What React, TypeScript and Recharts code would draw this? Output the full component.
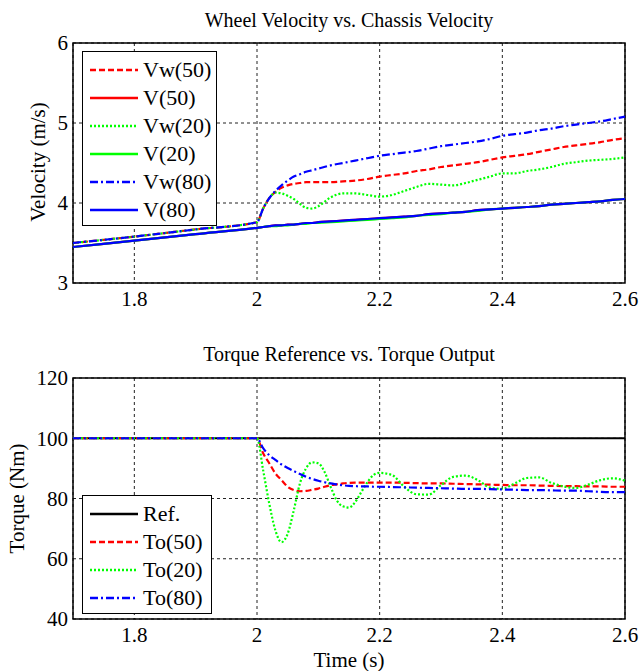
import { LineChart, Line, XAxis, YAxis, CartesianGrid, ReferenceArea, Legend } from 'recharts';

const FONT = '"Liberation Serif", "Times New Roman", serif';

// top plot: wheel velocity vs chassis velocity
const timeTop = [1.7, 1.8, 1.9, 2.0, 2.01, 2.02, 2.03, 2.04, 2.05, 2.06, 2.07, 2.08, 2.09, 2.1, 2.12, 2.14, 2.16, 2.18, 2.2, 2.22, 2.24, 2.26, 2.28, 2.3, 2.32, 2.34, 2.36, 2.38, 2.4, 2.42, 2.44, 2.46, 2.48, 2.5, 2.52, 2.54, 2.56, 2.58, 2.6];
const vw50 = [3.5, 3.58, 3.67, 3.76, 3.93, 4.06, 4.14, 4.19, 4.22, 4.24, 4.25, 4.26, 4.26, 4.26, 4.26, 4.27, 4.28, 4.3, 4.33, 4.35, 4.37, 4.4, 4.42, 4.45, 4.47, 4.49, 4.51, 4.54, 4.57, 4.59, 4.61, 4.64, 4.67, 4.7, 4.72, 4.74, 4.76, 4.79, 4.81];
const v50 = [3.45, 3.53, 3.61, 3.69, 3.7, 3.71, 3.72, 3.72, 3.73, 3.73, 3.74, 3.75, 3.75, 3.76, 3.77, 3.78, 3.79, 3.8, 3.81, 3.82, 3.83, 3.84, 3.86, 3.87, 3.88, 3.89, 3.91, 3.92, 3.93, 3.94, 3.95, 3.96, 3.98, 3.99, 4.0, 4.01, 4.02, 4.04, 4.05];
const vw20 = [3.5, 3.58, 3.67, 3.76, 3.93, 4.06, 4.13, 4.12, 4.09, 4.05, 3.99, 3.94, 3.93, 3.96, 4.07, 4.12, 4.12, 4.1, 4.08, 4.1, 4.15, 4.2, 4.24, 4.23, 4.22, 4.25, 4.29, 4.33, 4.37, 4.37, 4.4, 4.42, 4.45, 4.49, 4.51, 4.53, 4.54, 4.55, 4.57];
const v20 = [3.45, 3.53, 3.61, 3.69, 3.7, 3.71, 3.71, 3.72, 3.72, 3.73, 3.74, 3.74, 3.75, 3.75, 3.76, 3.77, 3.78, 3.79, 3.8, 3.81, 3.82, 3.84, 3.85, 3.86, 3.88, 3.89, 3.9, 3.92, 3.93, 3.94, 3.95, 3.96, 3.98, 3.99, 4.0, 4.01, 4.02, 4.04, 4.05];
const vw80 = [3.5, 3.58, 3.67, 3.76, 3.93, 4.06, 4.15, 4.22, 4.28, 4.33, 4.36, 4.39, 4.41, 4.43, 4.47, 4.5, 4.53, 4.56, 4.59, 4.61, 4.63, 4.65, 4.68, 4.71, 4.73, 4.75, 4.77, 4.8, 4.84, 4.86, 4.88, 4.91, 4.93, 4.96, 4.98, 5.0, 5.02, 5.05, 5.08];
const v80 = [3.45, 3.53, 3.61, 3.69, 3.7, 3.71, 3.72, 3.72, 3.73, 3.73, 3.74, 3.75, 3.75, 3.76, 3.77, 3.78, 3.79, 3.8, 3.81, 3.82, 3.83, 3.84, 3.86, 3.87, 3.88, 3.89, 3.91, 3.92, 3.93, 3.94, 3.95, 3.96, 3.98, 3.99, 4.0, 4.01, 4.02, 4.04, 4.05];

// bottom plot: torque reference vs torque output
const timeBot = [1.7, 1.8, 1.9, 2.0, 2.01, 2.02, 2.03, 2.04, 2.05, 2.06, 2.07, 2.08, 2.09, 2.1, 2.11, 2.12, 2.13, 2.14, 2.15, 2.16, 2.17, 2.18, 2.19, 2.2, 2.22, 2.24, 2.26, 2.28, 2.3, 2.32, 2.34, 2.36, 2.38, 2.4, 2.42, 2.44, 2.46, 2.48, 2.5, 2.52, 2.54, 2.56, 2.58, 2.6];
const tref = [100, 100, 100, 100, 100, 100, 100, 100, 100, 100, 100, 100, 100, 100, 100, 100, 100, 100, 100, 100, 100, 100, 100, 100, 100, 100, 100, 100, 100, 100, 100, 100, 100, 100, 100, 100, 100, 100, 100, 100, 100, 100, 100, 100];
const to50 = [100, 100, 100, 100, 95, 91.7, 88.3, 86.1, 83.9, 82.8, 82.4, 82.5, 82.9, 83.3, 83.9, 84.4, 84.7, 85, 85.2, 85.3, 85.3, 85.3, 85.3, 85.3, 85.3, 85.2, 85.1, 85, 85, 84.9, 84.8, 84.7, 84.6, 84.5, 84.4, 84.4, 84.3, 84.2, 84.1, 84.1, 84, 84, 83.9, 83.9];
const to20 = [100, 100, 100, 100, 89.4, 78.3, 69.4, 65.5, 68.3, 76.1, 85, 90, 92, 91.7, 88.9, 83.9, 79.4, 77.4, 77, 78.8, 82.1, 85.4, 87.8, 88.5, 87.8, 83.9, 81.4, 81.3, 84.4, 87.2, 87.6, 86.1, 83.6, 83.2, 85, 86.8, 87, 85.2, 84, 83.5, 84.6, 86.1, 86.7, 85.9];
const to80 = [100, 100, 100, 100, 96.7, 94.4, 92.8, 91.3, 90.1, 89.1, 88.1, 87.2, 86.5, 85.9, 85.4, 85, 84.7, 84.4, 84.2, 84.1, 84, 84, 83.9, 83.9, 83.8, 83.7, 83.6, 83.5, 83.4, 83.3, 83.2, 83.2, 83.1, 83, 82.9, 82.8, 82.8, 82.7, 82.6, 82.6, 82.4, 82.2, 82.1, 82.1];

const xTicks = [1.8, 2, 2.2, 2.4, 2.6];
const velTicks = [3, 4, 5, 6];
const torqueTicks = [40, 60, 80, 100, 120];

const topData = timeTop.map((t, i) => ({ t, vw50: vw50[i], v50: v50[i], vw20: vw20[i], v20: v20[i], vw80: vw80[i], v80: v80[i] }));
const botData = timeBot.map((t, i) => ({ t, tref: tref[i], to50: to50[i], to20: to20[i], to80: to80[i] }));

type Series = { key: string; name: string; color: string; dash?: string };

const topSeries: Series[] = [
  { key: 'vw50', name: 'Vw(50)', color: '#ff0000', dash: '6 3' },
  { key: 'v50', name: 'V(50)', color: '#ff0000' },
  { key: 'vw20', name: 'Vw(20)', color: '#00ff00', dash: '2 2' },
  { key: 'v20', name: 'V(20)', color: '#00ff00' },
  { key: 'vw80', name: 'Vw(80)', color: '#0000ff', dash: '8 3 2 3' },
  { key: 'v80', name: 'V(80)', color: '#0000ff' },
];

const botSeries: Series[] = [
  { key: 'tref', name: 'Ref.', color: '#000000' },
  { key: 'to50', name: 'To(50)', color: '#ff0000', dash: '6 3' },
  { key: 'to20', name: 'To(20)', color: '#00ff00', dash: '2 2' },
  { key: 'to80', name: 'To(80)', color: '#0000ff', dash: '8 3 2 3' },
];

const tickStyle = { fill: '#000', fontSize: 21 };

function makeLegend(series: Series[], width: number) {
  return (props: any) => {
    const keys = new Set((props.payload || []).map((p: any) => p.dataKey));
    const items = series.filter((s) => keys.has(s.key));
    return (
      <div style={{ width, boxSizing: 'border-box', border: '1.5px solid #000', background: '#fff', padding: '4px 0 1px 0', fontFamily: FONT }}>
        {items.map((s) => (
          <div key={s.key} style={{ height: 28, display: 'flex', alignItems: 'center' }}>
            <svg width={60} height={28} style={{ flex: 'none' }}>
              <line x1={7} x2={55} y1={14} y2={14} stroke={s.color} strokeWidth={2.5} strokeDasharray={s.dash} />
            </svg>
            <span style={{ fontSize: 22, lineHeight: '28px', color: '#000', fontFamily: FONT }}>{s.name}</span>
          </div>
        ))}
      </div>
    );
  };
}

export default function App() {
  return (
    <div style={{ position: 'absolute', left: 0, top: 0, width: 641, height: 671, background: '#fff', fontFamily: FONT }}>
      <style>{`.recharts-wrapper text, .recharts-text, .recharts-legend-wrapper span { font-family: "Liberation Serif", "Times New Roman", serif !important; }`}</style>
      <div style={{ position: 'absolute', left: 73, width: 552, top: 7, textAlign: 'center', fontSize: 20, lineHeight: '26px' }}>
        Wheel Velocity vs. Chassis Velocity
      </div>
      <div style={{ position: 'absolute', left: 0, top: 0 }}>
        <LineChart width={641} height={310} data={topData} margin={{ top: 43, right: 16, bottom: 0, left: 0 }}>
          <CartesianGrid stroke="#222" strokeDasharray="3 3" />
          <XAxis dataKey="t" type="number" domain={[1.7, 2.6]} ticks={xTicks} axisLine={false} tickLine={false} tickSize={0} tickMargin={8} height={27} tick={tickStyle} />
          <YAxis type="number" domain={[3, 6]} ticks={velTicks} axisLine={false} tickLine={false} tickSize={0} tickMargin={5} width={73} tick={tickStyle}
            label={{ value: 'Velocity (m/s)', angle: -90, position: 'center', dx: 1, dy: -1, style: { fill: '#000', fontSize: 21 } }} />
          <ReferenceArea x1={1.7} x2={2.6} y1={3} y2={6} fill="none" stroke="#000" strokeWidth={1.5} />
          {topSeries.map((s) => (
            <Line key={s.key} dataKey={s.key} name={s.name} type="monotone" stroke={s.color} strokeWidth={2.2} strokeDasharray={s.dash} dot={false} isAnimationActive={false} />
          ))}
          <Legend layout="horizontal" verticalAlign="middle" wrapperStyle={{ position: 'absolute', left: 82, top: 51, width: 135 }} content={makeLegend(topSeries, 135)} />
        </LineChart>
      </div>
      <div style={{ position: 'absolute', left: 73, width: 552, top: 341, textAlign: 'center', fontSize: 20, lineHeight: '26px' }}>
        Torque Reference vs. Torque Output
      </div>
      <div style={{ position: 'absolute', left: 0, top: 330 }}>
        <LineChart width={641} height={341} data={botData} margin={{ top: 48, right: 16, bottom: 0, left: 0 }}>
          <CartesianGrid stroke="#222" strokeDasharray="3 3" />
          <XAxis dataKey="t" type="number" domain={[1.7, 2.6]} ticks={xTicks} axisLine={false} tickLine={false} tickSize={0} tickMargin={8} height={52} tick={tickStyle}
            label={{ value: 'Time (s)', position: 'insideBottom', offset: 4, style: { fill: '#000', fontSize: 21 } }} />
          <YAxis type="number" domain={[40, 120]} ticks={torqueTicks} axisLine={false} tickLine={false} tickSize={0} tickMargin={5} width={73} tick={tickStyle}
            label={{ value: 'Torque (Nm)', angle: -90, position: 'center', dx: -20, dy: 0, style: { fill: '#000', fontSize: 21 } }} />
          <ReferenceArea x1={1.7} x2={2.6} y1={40} y2={120} fill="none" stroke="#000" strokeWidth={1.5} />
          {botSeries.map((s) => (
            <Line key={s.key} dataKey={s.key} name={s.name} type="monotone" stroke={s.color} strokeWidth={2.2} strokeDasharray={s.dash} dot={false} isAnimationActive={false} />
          ))}
          <Legend layout="horizontal" verticalAlign="middle" wrapperStyle={{ position: 'absolute', left: 82, top: 165, width: 130 }} content={makeLegend(botSeries, 130)} />
        </LineChart>
      </div>
    </div>
  );
}
